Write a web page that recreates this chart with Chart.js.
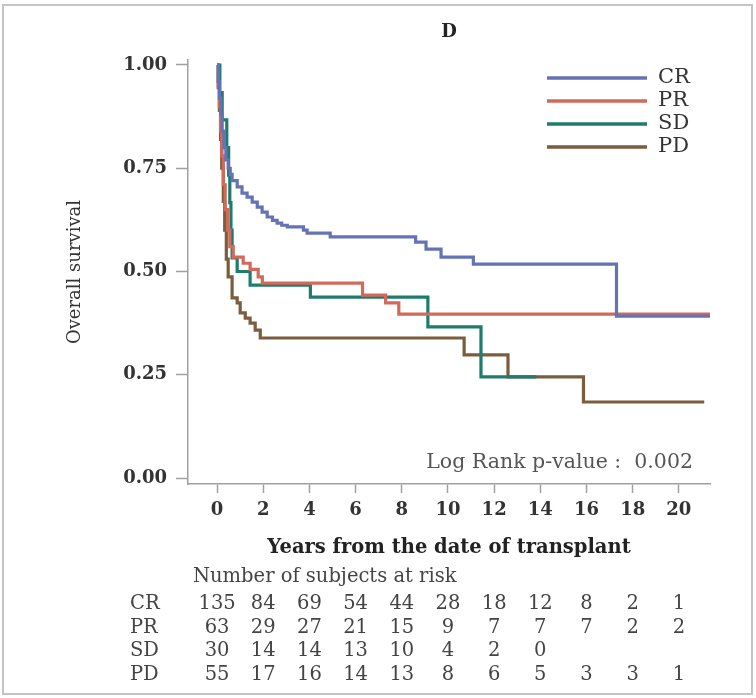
<!DOCTYPE html>
<html>
<head>
<meta charset="utf-8">
<script src="https://cdn.jsdelivr.net/npm/chart.js@4/dist/chart.umd.min.js"></script>
<style>
  html, body { margin: 0; padding: 0; background: #fff; }
</style>
</head>
<body>
<canvas id="myChart" width="756" height="698"></canvas>
<script>
    // Data-----
    const groups = ['CR', 'PR', 'SD', 'PD'];
    const colors = ['#6472b6', '#d16a5b', '#1e7c6e', '#7a5d3c'];

    const crTime = [0, 0.05, 0.1, 0.16, 0.22, 0.3, 0.38, 0.48, 0.57, 0.65, 0.87, 1.08, 1.3, 1.52, 1.74, 1.95, 2.17, 2.4, 2.6, 2.8, 3.04, 3.74, 3.9, 4.9, 8.6, 9.05, 9.7, 11.1, 17.3, 21.35];
    const crSurv = [1, 0.96, 0.92, 0.88, 0.84, 0.8, 0.77, 0.75, 0.735, 0.72, 0.705, 0.69, 0.68, 0.668, 0.656, 0.644, 0.632, 0.624, 0.617, 0.612, 0.608, 0.6, 0.593, 0.584, 0.571, 0.554, 0.535, 0.518, 0.392, 0.392];

    const prTime = [0, 0.05, 0.1, 0.15, 0.2, 0.27, 0.35, 0.45, 0.55, 0.7, 1.13, 1.43, 1.78, 1.96, 6.3, 7.3, 7.87, 21.35];
    const prSurv = [1, 0.95, 0.9, 0.84, 0.78, 0.71, 0.65, 0.6, 0.56, 0.535, 0.52, 0.505, 0.487, 0.472, 0.443, 0.424, 0.397, 0.397];

    const sdTime = [0, 0.12, 0.22, 0.42, 0.5, 0.55, 0.6, 0.65, 0.87, 1.43, 4.04, 9.13, 11.43, 13.83];
    const sdSurv = [1, 0.933, 0.867, 0.8, 0.733, 0.667, 0.6, 0.533, 0.5, 0.467, 0.438, 0.366, 0.245, 0.245];

    const pdTime = [0, 0.05, 0.1, 0.15, 0.2, 0.27, 0.33, 0.4, 0.48, 0.65, 0.87, 1.0, 1.22, 1.43, 1.65, 1.87, 10.7, 12.6, 15.87, 21.1];
    const pdSurv = [1, 0.945, 0.89, 0.82, 0.75, 0.67, 0.6, 0.53, 0.487, 0.436, 0.424, 0.4, 0.387, 0.375, 0.358, 0.339, 0.298, 0.245, 0.184, 0.184];

    const xTicks = [0, 2, 4, 6, 8, 10, 12, 14, 16, 18, 20];
    const yTicks = [0, 0.25, 0.5, 0.75, 1];

    const riskCR = [135, 84, 69, 54, 44, 28, 18, 12, 8, 2, 1];
    const riskPR = [63, 29, 27, 21, 15, 9, 7, 7, 7, 2, 2];
    const riskSD = [30, 14, 14, 13, 10, 4, 2, 0];
    const riskPD = [55, 17, 16, 14, 13, 8, 6, 5, 3, 3, 1];
    // Data-----

    const times = [crTime, prTime, sdTime, pdTime];
    const survs = [crSurv, prSurv, sdSurv, pdSurv];
    const risks = [riskCR, riskPR, riskSD, riskPD];

    const serif = 'DejaVu Serif';

    // Extras drawn on the canvas: frame, title, legend, p-value, risk table
    const extras = {
        id: 'extras',
        beforeDraw(chart) {
            const ctx = chart.ctx;
            ctx.save();
            ctx.fillStyle = '#fff';
            ctx.fillRect(0, 0, chart.width, chart.height);
            ctx.strokeStyle = '#c4c4c4';
            ctx.lineWidth = 2;
            ctx.strokeRect(3, 5, 749, 689);
            ctx.restore();
        },
        afterDraw(chart) {
            const ctx = chart.ctx;
            const xs = chart.scales.x;
            ctx.save();

            // title
            ctx.fillStyle = '#222';
            ctx.font = 'bold 18px "' + serif + '"';
            ctx.textAlign = 'center';
            ctx.textBaseline = 'middle';
            ctx.fillText('D', 449, 32);

            // legend
            ctx.font = '21px "' + serif + '"';
            ctx.textAlign = 'left';
            groups.forEach((g, i) => {
                const y = 78 + i * 23;
                ctx.strokeStyle = colors[i];
                ctx.lineWidth = 3.5;
                ctx.beginPath();
                ctx.moveTo(547, y);
                ctx.lineTo(647, y);
                ctx.stroke();
                ctx.fillStyle = '#333';
                ctx.fillText(g, 658, y);
            });

            // p-value
            ctx.fillStyle = '#555';
            ctx.font = '20.5px "' + serif + '"';
            ctx.textAlign = 'right';
            ctx.fillText('Log Rank p-value :  0.002', 693, 463);

            // risk table
            ctx.fillStyle = '#444';
            ctx.font = '19.5px "' + serif + '"';
            ctx.textAlign = 'left';
            ctx.fillText('Number of subjects at risk', 193, 577);
            groups.forEach((g, i) => {
                const y = 604 + i * 23.7;
                ctx.textAlign = 'left';
                ctx.fillText(g, 130, y);
                ctx.textAlign = 'center';
                risks[i].forEach((n, j) => {
                    ctx.fillText(String(n), xs.getPixelForValue(xTicks[j]), y);
                });
            });
            ctx.restore();
        }
    };

    // Config-----
    const config = {
        type: 'line',
        data: {
            datasets: groups.map((g, i) => ({
                label: g,
                data: times[i].map((t, k) => ({x: t, y: survs[i][k]})),
                borderColor: colors[i],
                borderWidth: 3.2,
                pointRadius: 0,
                stepped: true,
                fill: false
            }))
        },
        options: {
            responsive: false,
            animation: false,
            events: [],
            layout: {
                padding: {left: 65, right: 46, top: 60, bottom: 138}
            },
            plugins: {
                legend: false,
                tooltip: {enabled: false}
            },
            scales: {
                x: {
                    type: 'linear',
                    min: -1.26,
                    max: 21.35,
                    afterBuildTicks: s => { s.ticks = xTicks.map(v => ({value: v})); },
                    afterFit: s => { s.height = 76; },
                    grid: {drawOnChartArea: false, tickLength: 9, color: '#a0a0a0', tickWidth: 1.5},
                    border: {color: '#a0a0a0', width: 1.5},
                    ticks: {
                        autoSkip: false, maxRotation: 0, padding: 7, color: '#333',
                        font: {family: serif, size: 18, weight: 'bold'}
                    },
                    title: {
                        display: true, text: 'Years from the date of transplant', color: '#222', padding: 0,
                        font: {family: serif, size: 19.5, weight: 'bold'}
                    }
                },
                y: {
                    min: -0.0145,
                    max: 1.0121,
                    afterBuildTicks: s => { s.ticks = yTicks.map(v => ({value: v})); },
                    afterFit: s => { s.width = 123; },
                    grid: {drawOnChartArea: false, tickLength: 12, color: '#a0a0a0', tickWidth: 1.5},
                    border: {color: '#a0a0a0', width: 1.5},
                    ticks: {
                        padding: 9, color: '#333',
                        font: {family: serif, size: 18, weight: 'bold'},
                        callback: v => v.toFixed(2)
                    },
                    title: {
                        display: true, text: 'Overall survival', color: '#333', padding: 0,
                        font: {family: serif, size: 18}
                    }
                }
            }
        },
        plugins: [extras]
    };
    // Config-----

    var myChart = new Chart(
        document.getElementById('myChart'),
        config
    );
</script>
</body>
</html>
